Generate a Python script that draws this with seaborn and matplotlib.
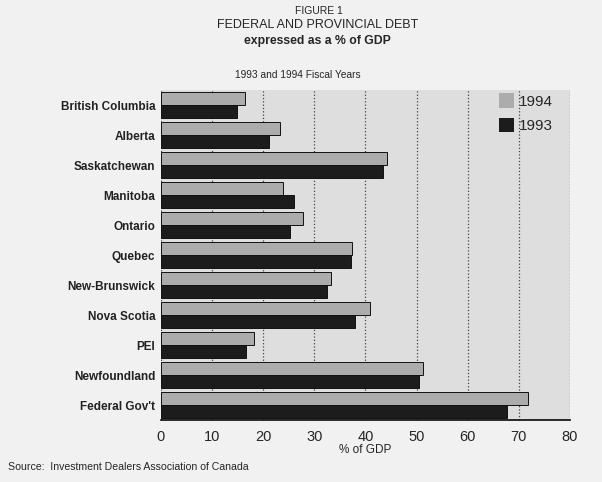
"""Figure 1: federal and provincial debt as % of GDP, 1993 vs 1994."""

import matplotlib.pyplot as plt
import pandas as pd
import seaborn as sns
from matplotlib.patches import Patch

sns.set_theme(style="white")
plt.rcParams["font.family"] = ["Liberation Sans", "DejaVu Sans"]

JURISDICTIONS = [
    "British Columbia", "Alberta", "Saskatchewan", "Manitoba", "Ontario",
    "Quebec", "New-Brunswick", "Nova Scotia", "PEI", "Newfoundland",
    "Federal Gov't",
]
DEBT_1994 = [16.4, 23.2, 44.2, 23.9, 27.7, 37.4, 33.2, 40.8, 18.1, 51.3, 71.7]
DEBT_1993 = [14.8, 21.1, 43.5, 26.0, 25.2, 37.1, 32.5, 37.9, 16.6, 50.4, 67.6]
YEARS = ["1994", "1993"]
X_TICKS = [0, 10, 20, 30, 40, 50, 60, 70, 80]

PALETTE = {"1994": "#acacac", "1993": "#1c1c1c"}

df = pd.DataFrame({
    "region": JURISDICTIONS * 2,
    "year": ["1994"] * len(JURISDICTIONS) + ["1993"] * len(JURISDICTIONS),
    "pct": DEBT_1994 + DEBT_1993,
})

fig = plt.figure(figsize=(6.02, 4.82), dpi=100, facecolor="#f1f1f1")
ax = fig.add_axes([0.2674, 0.1286, 0.6794, 0.6845])
ax.set_facecolor("#dedede")

sns.barplot(
    data=df, x="pct", y="region", hue="year", hue_order=YEARS,
    order=JURISDICTIONS, palette=PALETTE, orient="h", width=0.88, gap=0,
    ax=ax, legend=False,
)
for bar in ax.patches:
    bar.set_edgecolor("#111111")
    bar.set_linewidth(0.7)

ax.set_xlim(0, 80)
ax.set_xticks(X_TICKS)
ax.set_xticklabels([str(t) for t in X_TICKS], fontsize=10.5)
ax.tick_params(axis="x", length=0, pad=7)
ax.tick_params(axis="y", length=0, pad=4)
for lab in ax.get_yticklabels():
    lab.set_fontsize(8.5)
    lab.set_fontweight("bold")
    lab.set_color("#222222")
ax.xaxis.grid(True, linestyle=":", color="#444444", linewidth=0.9)
ax.set_axisbelow(True)
ax.set_ylabel("")
ax.set_xlabel("% of GDP", fontsize=8.5, labelpad=0)

for side in ("top", "right", "left"):
    ax.spines[side].set_visible(False)
ax.spines["bottom"].set_color("#111111")

handles = [Patch(facecolor=PALETTE[y], edgecolor="none", label=y) for y in YEARS]
ax.legend(
    handles=handles, loc="upper left", frameon=False, fontsize=11,
    handlelength=1.0, handleheight=1.05, handletextpad=0.3, labelspacing=0.6,
    bbox_to_anchor=(0.826, 0.99), borderaxespad=0, borderpad=0,
)

fig.text(0.53, 0.978, "FIGURE 1", ha="center", va="center", fontsize=7.5)
fig.text(0.527, 0.948, "FEDERAL AND PROVINCIAL DEBT", ha="center",
         va="center", fontsize=9)
fig.text(0.527, 0.915, "expressed as a % of GDP", ha="center", va="center",
         fontsize=8.8, fontweight="bold")
fig.text(0.495, 0.845, "1993 and 1994 Fiscal Years", ha="center",
         va="center", fontsize=7.3)
fig.text(0.013, 0.031, "Source:  Investment Dealers Association of Canada",
         ha="left", va="center", fontsize=7.6)

fig.savefig("out.png", dpi=100, facecolor=fig.get_facecolor())
